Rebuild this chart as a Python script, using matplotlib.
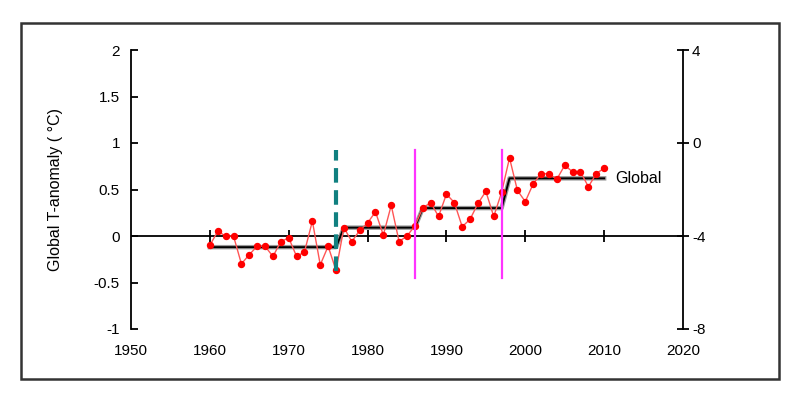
import numpy as np
import matplotlib
matplotlib.use("Agg")
import matplotlib.pyplot as plt
from matplotlib.patches import Rectangle

# annual global temperature anomaly (red dots)
years = list(range(1960, 2011))
anomaly = [-0.10, 0.05, 0.00, 0.00, -0.30, -0.20, -0.11, -0.11, -0.22, -0.06,
           -0.02, -0.22, -0.17, 0.16, -0.31, -0.11, -0.37, 0.09, -0.06, 0.06,
           0.14, 0.26, 0.01, 0.33, -0.06, 0.00, 0.11, 0.30, 0.36, 0.21,
           0.45, 0.36, 0.10, 0.18, 0.35, 0.48, 0.21, 0.47, 0.84, 0.49,
           0.37, 0.56, 0.67, 0.67, 0.61, 0.76, 0.69, 0.69, 0.53, 0.67,
           0.73]

# regime means (black step line)
step_x = [1960, 1976, 1977, 1986, 1987, 1997, 1998, 2010]
step_y = [-0.12, -0.12, 0.09, 0.09, 0.30, 0.30, 0.62, 0.62]

# break markers
dash_year = 1976
dash_span = [-0.38, 0.93]
break_years = [1986, 1997]
break_span = [-0.45, 0.92]

xticks = [1950, 1960, 1970, 1980, 1990, 2000, 2010, 2020]
zero_ticks = [1960, 1970, 1980, 1990, 2000, 2010]
yticks = [-1, -0.5, 0, 0.5, 1, 1.5, 2]
yticklabels = ["-1", "-0.5", "0", "0.5", "1", "1.5", "2"]
rticks = [-8, -4, 0, 4]

plt.rcParams['font.family'] = ['Liberation Sans', 'DejaVu Sans']

fig = plt.figure(figsize=(8, 3.97), dpi=100)
fig.patches.append(Rectangle((21 / 800, 1 - 379 / 397), 758 / 800, 356 / 397,
                             transform=fig.transFigure, fill=False,
                             edgecolor='#333333', linewidth=1.8))

ax = fig.add_axes([131 / 800, 1 - 329 / 397, 552 / 800, 279 / 397])
ax.set_xlim(1950, 2020)
ax.set_ylim(-1, 2)

ax.axhline(0, color='black', linewidth=1.3, zorder=1)
ax.plot(zero_ticks, [0] * len(zero_ticks), linestyle='none', marker='|',
        markersize=9, markeredgewidth=1.3, color='black', zorder=1)

ax.plot(step_x, step_y, color='#999999', linewidth=3.2, zorder=2)
ax.plot(step_x, step_y, color='black', linewidth=1.4, zorder=3)

ax.plot(years, anomaly, color='#ff5555', linewidth=1.0, marker='o',
        markersize=4.3, markerfacecolor='red', markeredgecolor='red', zorder=4)

ax.plot([dash_year, dash_year], dash_span, color='#108080', linewidth=3,
        dashes=(3.5, 1.8), zorder=5)
for by in break_years:
    ax.plot([by, by], break_span, color='#ff33ff', linewidth=1.6, zorder=5)

ax.text(2011.4, 0.62, "Global", fontsize=11.5, va='center', ha='left')

for s in ['top', 'bottom', 'right']:
    ax.spines[s].set_visible(False)
ax.spines['left'].set_linewidth(1.3)

ax.set_xticks(xticks)
ax.set_xticklabels([str(x) for x in xticks])
ax.tick_params(axis='x', length=0, pad=11, labelsize=11)
ax.set_yticks(yticks)
ax.set_yticklabels(yticklabels)
ax.tick_params(axis='y', direction='in', length=5, width=1.3, pad=8, labelsize=11)

ax.set_ylabel("Global T-anomaly ( \u00b0C)", fontsize=11.5, labelpad=22)

ax2 = ax.twinx()
ax2.set_ylim(-8, 4)
ax2.set_yticks(rticks)
ax2.set_yticklabels([str(v) for v in rticks])
ax2.tick_params(axis='y', direction='inout', length=9, width=1.3, pad=2, labelsize=11)
for s in ['top', 'bottom', 'left']:
    ax2.spines[s].set_visible(False)
ax2.spines['right'].set_linewidth(1.3)

fig.savefig("out.png", dpi=100)
